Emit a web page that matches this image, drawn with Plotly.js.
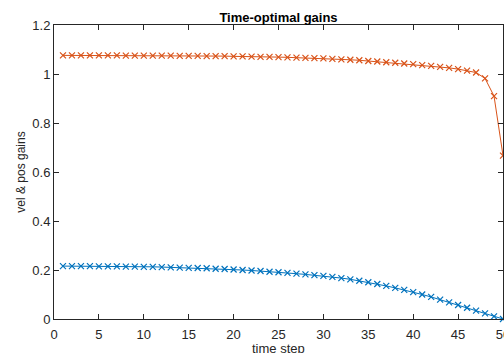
<!DOCTYPE html>
<html><head><meta charset="utf-8">
<script src="https://cdn.plot.ly/plotly-3.0.1.min.js"></script>
<style>html,body{margin:0;padding:0;background:#fff}#c{width:504px;height:353px}</style>
</head><body><div id="c"></div>
<script>
const timeSteps = [1,2,3,4,5,6,7,8,9,10,11,12,13,14,15,16,17,18,19,20,21,22,23,24,25,26,27,28,29,30,31,32,33,34,35,36,37,38,39,40,41,42,43,44,45,46,47,48,49,50];
const posGain = [0.216,0.216,0.216,0.216,0.215,0.215,0.215,0.214,0.214,0.213,
  0.213,0.212,0.211,0.210,0.209,0.208,0.207,0.205,0.204,0.202,
  0.200,0.198,0.196,0.193,0.191,0.188,0.185,0.182,0.179,0.176,
  0.172,0.167,0.162,0.156,0.150,0.143,0.135,0.127,0.119,0.110,
  0.100,0.090,0.079,0.068,0.057,0.046,0.034,0.023,0.011,0.000];
const velGain = [1.076,1.076,1.076,1.076,1.076,1.076,1.076,1.075,1.075,1.075,
  1.075,1.075,1.075,1.074,1.074,1.074,1.073,1.073,1.073,1.072,
  1.072,1.071,1.070,1.070,1.069,1.068,1.067,1.066,1.065,1.064,
  1.062,1.060,1.058,1.056,1.053,1.051,1.048,1.046,1.043,1.040,
  1.036,1.033,1.029,1.025,1.020,1.014,1.006,0.982,0.910,0.667];
const xTicks = [0,5,10,15,20,25,30,35,40,45,50];
const yTicks = [0,0.2,0.4,0.6,0.8,1,1.2];
const xLabel = 'time step';

const mk = (y, color) => ({
  x: timeSteps, y: y, type: 'scatter', mode: 'lines+markers',
  line: {color: color, width: 1},
  marker: {symbol: 'x-thin', size: 6, line: {color: color, width: 1.2}, color: color},
  cliponaxis: false, showlegend: false
});

const FONT = 'Liberation Sans, Arial, sans-serif';
const axCommon = {
  showgrid: false, zeroline: false, showline: true, mirror: 'ticks',
  linecolor: '#262626', linewidth: 1, ticks: 'inside', ticklen: 5, tickcolor: '#262626',
  tickfont: {family: FONT, size: 13, color: '#262626'}
};

const layout = {
  width: 504, height: 353,
  margin: {l: 54, r: 1, t: 25, b: 34},
  paper_bgcolor: '#fff', plot_bgcolor: '#fff',
  title: {text: '<b>Time-optimal gains</b>', x: 0.5, xref: 'paper', y: 0.95, yref: 'container', yanchor: 'middle',
    font: {family: FONT, size: 13, color: '#000'}},
  xaxis: Object.assign({}, axCommon, {range: [0, 50], tickvals: xTicks, ticktext: xTicks.map(String),
    ticklabeloverflow: 'allow', ticklabelstandoff: 3}),
  yaxis: Object.assign({}, axCommon, {range: [0, 1.2], tickvals: yTicks, ticktext: yTicks.map(String),
    title: {text: 'vel & pos gains', standoff: 4, font: {family: FONT, size: 12, color: '#262626'}}}),
  annotations: [{text: xLabel, xref: 'paper', yref: 'paper', x: 0.5, y: -0.1, xanchor: 'center', yanchor: 'middle',
    showarrow: false, font: {family: FONT, size: 13, color: '#262626'}}]
};

Plotly.newPlot('c', [mk(posGain, '#0072BD'), mk(velGain, '#D95319')], layout, {staticPlot: true, displayModeBar: false});
</script></body></html>
